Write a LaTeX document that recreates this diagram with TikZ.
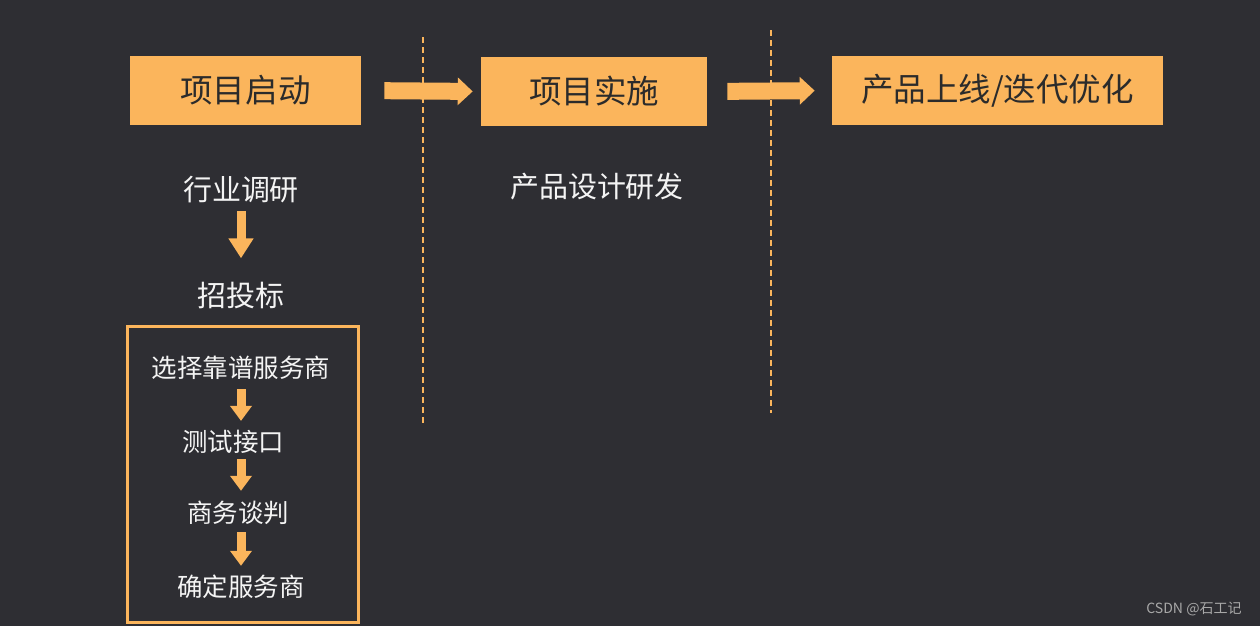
\documentclass[tikz,border=0pt]{standalone}
\usepackage{fontspec}
\setmainfont{Noto Sans CJK SC}
\usepackage{tikz}
\usetikzlibrary{arrows.meta,positioning}
\definecolor{beijingHui}{HTML}{2E2E33}
\definecolor{cheng}{HTML}{FBB55C}
\definecolor{ziHei}{HTML}{2B2B2B}
\definecolor{ziBai}{HTML}{F4F4F4}
\definecolor{shuiyinHui}{HTML}{A8A8A8}

\begin{document}
\begin{tikzpicture}[x=0.02cm,y=-0.02cm,
  jieduan/.style={fill=cheng,text=ziHei,font=\fontsize{18.5}{20}\selectfont,minimum height=1.38cm,inner sep=0pt},
  buzhou/.style={text=ziBai,font=\fontsize{16.5}{18}\selectfont,inner sep=0pt},
  xiaobu/.style={text=ziBai,font=\fontsize{14.5}{16}\selectfont,inner sep=0pt},
  dajiantou/.style={cheng,line width=0.34cm,-{Triangle[length=0.3cm,width=0.54cm]}},
  xiajiantou/.style={cheng,line width=0.18cm,-{Triangle[length=0.4cm,width=0.48cm]}},
  xiaojiantou/.style={cheng,line width=0.18cm,-{Triangle[length=0.3cm,width=0.42cm]}}]
\fill[beijingHui] (0,0) rectangle (1260,626);
\useasboundingbox (0,0) rectangle (1260,626);
% dashed separators
\draw[cheng,line width=0.7pt,dash pattern=on 0.12cm off 0.08cm] (423,37)--(423,425);
\draw[cheng,line width=0.7pt,dash pattern=on 0.12cm off 0.08cm] (771,30)--(771,413);
% stages
\node[jieduan,minimum width=4.62cm] (qidong) at (245.5,90.5) {项目启动};
\node[jieduan,minimum width=4.52cm] (shishi) at (594,91.5) {项目实施};
\node[jieduan,minimum width=6.62cm] (shangxian) at (997.5,90.5) {产品上线/迭代优化};
\draw[dajiantou,shorten <=0.46cm,shorten >=0.16cm] (qidong.east)--(shishi.west);
\draw[dajiantou,shorten <=0.4cm,shorten >=0.34cm] (shishi.east)--(shangxian.west);
% first column
\node[buzhou] (hangye) at (241,190) {行业调研};
\node[buzhou] (zhaotou) at (241,296) {招投标};
\draw[xiajiantou,shorten <=0.14cm,shorten >=0.48cm] (hangye.south)--(zhaotou.north);
\node[draw=cheng,line width=0.06cm,minimum width=4.62cm,minimum height=5.92cm] (kuang) at (243,474.5) {};
\node[xiaobu] (xuanze) at (241,368) {选择靠谱服务商};
\node[xiaobu] (ceshi) at (233,442) {测试接口};
\node[xiaobu] (tanpan) at (238,513) {商务谈判};
\node[xiaobu] (queding) at (241,587) {确定服务商};
\draw[xiaojiantou,shorten <=0.18cm,shorten >=0.18cm] (xuanze.south)--(xuanze.south |- ceshi.north);
\draw[xiaojiantou,shorten <=0.1cm,shorten >=0.2cm] (xuanze.south |- ceshi.south)--(xuanze.south |- tanpan.north);
\draw[xiaojiantou,shorten <=0.14cm,shorten >=0.18cm] (xuanze.south |- tanpan.south)--(xuanze.south |- queding.north);
% second column
\node[buzhou] (sheji) at (597,187) {产品设计研发};
\node[text=shuiyinHui,font=\fontsize{8}{9}\selectfont,inner sep=0pt] (shuiyin) at (1194,609) {CSDN @石工记};
\end{tikzpicture}
\end{document}
